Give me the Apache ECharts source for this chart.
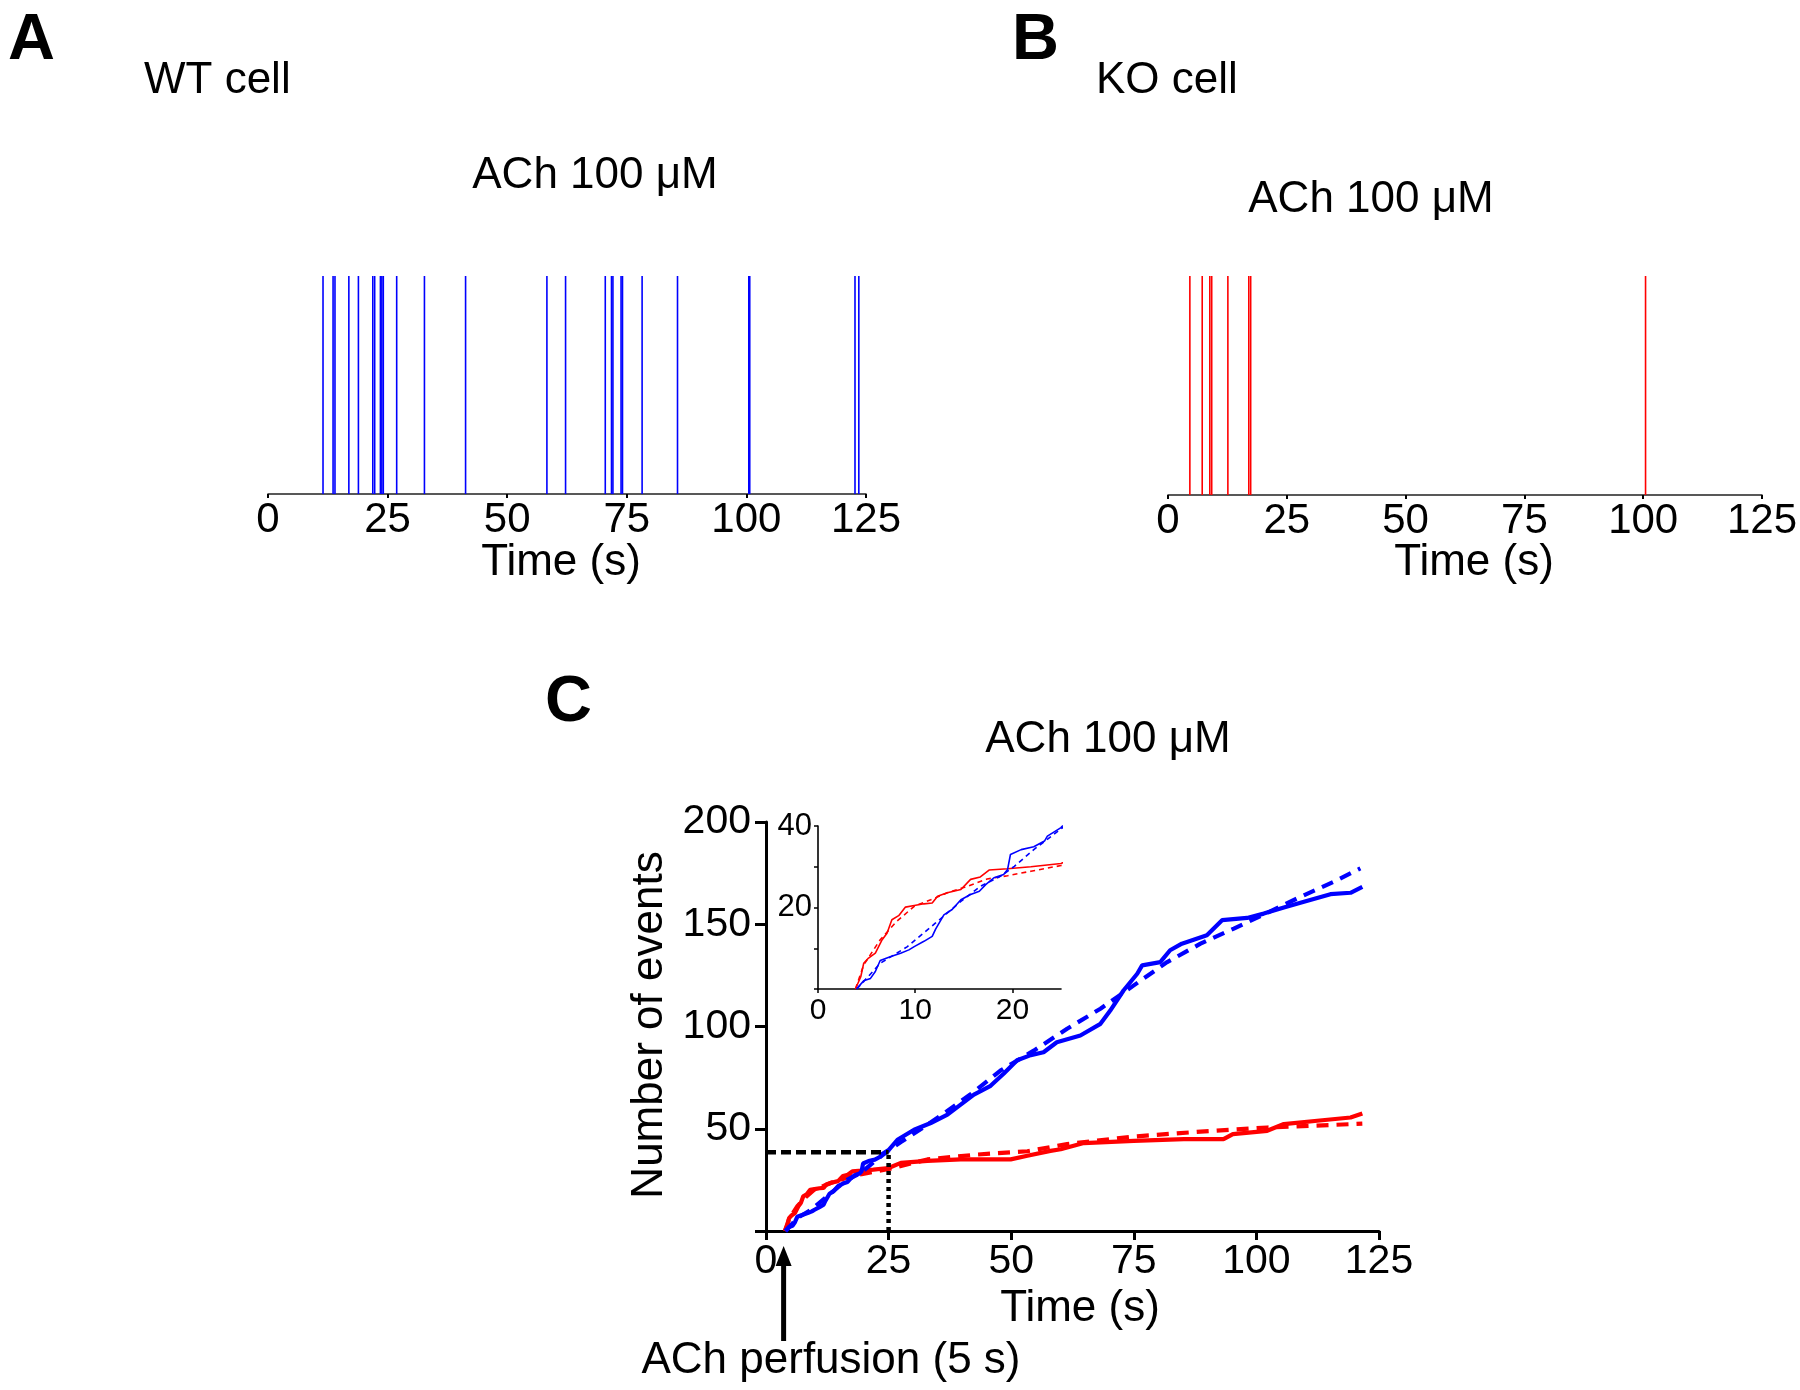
<!DOCTYPE html>
<html>
<head>
<meta charset="utf-8">
<script src="https://cdn.jsdelivr.net/npm/echarts@6/dist/echarts.min.js"></script>
<style>html,body{margin:0;padding:0;background:#fff}#c{width:1800px;height:1390px}</style>
</head>
<body>
<div id="c"></div>
<script>
// ---------- DATA ----------
const timeTicks = [0, 25, 50, 75, 100, 125];
// Panel A: WT cell event times (s)
const wtEvents = [11.5, 13.6, 14.0, 16.9, 18.9, 21.9, 22.3, 23.5, 23.8, 24.1, 26.9, 32.7, 41.3, 58.3, 62.2, 70.5, 71.8, 72.1, 73.8, 74.1, 78.2, 85.6, 100.5, 100.7, 122.7, 123.5];
// Panel B: KO cell event times (s)
const koEvents = [4.6, 7.2, 8.8, 9.2, 12.6, 17.0, 17.4, 100.5];
// Panel C: cumulative number of events [time, count]
const wtCum = [[3.95,0],[4.7,2],[5.4,2.6],[5.9,4.3],[6.4,7],[7.5,8],[8.5,8.8],[9.35,9.6],[9.9,10.4],[10.9,11.7],[11.75,12.9],[12.1,14.7],[12.95,18.2],[13.8,19.5],[14.7,21.9],[15.7,23.2],[16.6,24],[17.25,25.6],[18.1,27.3],[19.1,28.1],[19.5,29.3],[19.8,33],[20.9,34.2],[22.2,34.9],[23.3,36.3],[23.6,37.5],[25,39.6],[26.8,44.6],[30.2,49.5],[33.6,52.8],[37,56.9],[39.7,61.8],[42.4,66.7],[45.8,71],[48.5,77],[51.2,83.5],[54,86],[56.6,87.4],[59.3,92.3],[64.1,95.6],[68.2,101.3],[70.2,107.8],[72.9,117.6],[75.7,125.8],[76.7,129.9],[80.4,131.5],[82.4,137.3],[84.8,140.5],[89.9,144.6],[93,152],[98.1,153.1],[101.5,155.2],[105.6,158.2],[109.7,161],[115.1,164.7],[119.2,165.4],[121.6,168.3]];
const wtFit = [[4,0],[6.4,6.3],[9.2,10.4],[12.1,16.2],[14.7,21.5],[16.7,25.2],[18.8,27.7],[20.2,30.1],[22.2,34.2],[25,39.3],[27.5,43.5],[32,50.5],[36,57],[41.8,67],[47.8,78.4],[54.6,88.2],[61.4,98.9],[68.2,108.7],[75,120.1],[81.8,131.5],[88.6,140.5],[95.4,147.9],[102.2,155.6],[109,163.4],[115.8,170.8],[121.2,177.3]];
const koCum = [[3.85,0],[4.4,3],[4.7,6.3],[5.2,7.6],[5.9,8.8],[6.6,12.1],[7.1,13.7],[7.6,17],[8.3,18],[9,20.1],[9.9,20.5],[10.9,20.9],[11.75,21.1],[12.3,22.75],[13.3,23.6],[14.7,24.4],[15.7,26.9],[16.7,27.5],[17.6,29.2],[19.5,29.5],[21.9,30],[25,30.8],[27.5,33.3],[32.9,34.3],[39.7,35],[49.9,35],[53.3,36.8],[58,39.2],[60.1,40],[64.8,43],[75,44.1],[85.2,44.9],[93.3,44.9],[95.2,47.4],[102.2,49],[105.6,52.3],[112.4,53.9],[119.2,55.5],[121.6,57.5]];
const koFit = [[3.85,0],[4.7,5.9],[6.4,12.1],[8.1,16.6],[9.9,20.3],[11.6,21.9],[13.3,23.6],[15.4,25.2],[17.4,27],[19.5,27.8],[21.9,28.9],[25,30.3],[32.9,35],[43.1,37.4],[53.3,39],[61.4,42.5],[75,46.2],[88.6,48.6],[102.2,50.6],[115.8,51.9],[121.6,52.5]];
const crossLevel = [[0,38.5],[25,38.5]];
const crossTime = [[25,0],[25,38.5]];
const perfusionStart = [[4, 0]];

// ---------- STYLE ----------
const FONT = "'Liberation Sans', Arial, Helvetica, sans-serif";
const BLUE = '#0000ff', RED = '#ff0000';

function rasterItem(color) {
  return function (params, api) {
    const t = api.value(0);
    const p0 = api.coord([t, 0]);
    const p1 = api.coord([t, 1]);
    return { type: 'line', shape: { x1: p0[0], y1: p0[1], x2: p1[0], y2: p1[1] },
      style: { stroke: color, lineWidth: 1.6 } };
  };
}

function rasterX(gi) {
  return { gridIndex: gi, type: 'value', min: 0, max: 125, interval: 25,
    axisLine: { show: true, onZero: false, lineStyle: { color: '#222', width: 1.6 } },
    axisTick: { show: true, length: 4, lineStyle: { color: '#000', width: 2 } },
    axisLabel: { fontSize: 42, margin: 5, color: '#000', fontFamily: FONT },
    splitLine: { show: false } };
}
function rasterY(gi) {
  return { gridIndex: gi, type: 'value', min: 0, max: 1, show: false, splitLine: { show: false } };
}

function txt(text, x, y, size, opts) {
  opts = opts || {};
  return { type: 'text', x: x, y: y, rotation: opts.rot || 0, z: 100,
    style: { text: text, fill: '#000', font: (opts.bold ? 'bold ' : '') + size + 'px ' + FONT,
      textAlign: opts.align || 'left', textVerticalAlign: 'middle', verticalAlign: 'middle' } };
}

const lineS = (data, color, w, dash, xi) => ({
  type: 'line', xAxisIndex: xi, yAxisIndex: xi, data: data, showSymbol: false, symbol: 'none',
  lineStyle: { color: color, width: w, type: dash || 'solid' }, animation: false, z: 3
});

const chart = echarts.init(document.getElementById('c'), null, { renderer: 'canvas' });
chart.setOption({
  animation: false,
  backgroundColor: '#fff',
  textStyle: { fontFamily: FONT },
  grid: [
    { left: 268, top: 276, width: 598, height: 218 },
    { left: 1168, top: 276, width: 597, height: 219 },
    { left: 766, top: 822, width: 613, height: 409 },
    { left: 818, top: 826, width: 243, height: 163 }
  ],
  xAxis: [
    rasterX(0), rasterX(1),
    { gridIndex: 2, type: 'value', min: 0, max: 125, interval: 25,
      axisLine: { show: true, onZero: false, lineStyle: { color: '#000', width: 3 } },
      axisTick: { show: true, length: 9, lineStyle: { color: '#000', width: 3 } },
      axisLabel: { fontSize: 41, margin: 10, color: '#000', fontFamily: FONT },
      splitLine: { show: false } },
    { gridIndex: 3, type: 'value', min: 0, max: 25,
      axisLine: { show: true, onZero: false, lineStyle: { color: '#000', width: 1.6 } },
      axisTick: { show: true, length: 4, customValues: [0, 10, 20], lineStyle: { color: '#000', width: 1.5 } },
      axisLabel: { fontSize: 30, margin: 7, color: '#000', fontFamily: FONT, customValues: [0, 10, 20] },
      splitLine: { show: false } }
  ],
  yAxis: [
    rasterY(0), rasterY(1),
    { gridIndex: 2, type: 'value', min: 0, max: 200, interval: 50,
      axisLine: { show: true, onZero: false, lineStyle: { color: '#000', width: 3 } },
      axisTick: { show: true, length: 11, lineStyle: { color: '#000', width: 3 } },
      axisLabel: { fontSize: 41, margin: 15, color: '#000', fontFamily: FONT,
        formatter: v => (v === 0 ? '' : String(v)) },
      splitLine: { show: false } },
    { gridIndex: 3, type: 'value', min: 0, max: 40,
      axisLine: { show: true, onZero: false, lineStyle: { color: '#000', width: 1.6 } },
      axisTick: { show: true, length: 4, customValues: [0, 10, 20, 30, 40], lineStyle: { color: '#000', width: 1.5 } },
      axisLabel: { fontSize: 31, margin: 6, color: '#000', fontFamily: FONT, customValues: [20, 40] },
      splitLine: { show: false } }
  ],
  series: [
    { type: 'custom', xAxisIndex: 0, yAxisIndex: 0, data: wtEvents.map(t => [t, 1]), renderItem: rasterItem(BLUE), z: 2 },
    { type: 'custom', xAxisIndex: 1, yAxisIndex: 1, data: koEvents.map(t => [t, 1]), renderItem: rasterItem(RED), z: 2 },
    lineS(koCum, RED, 4.2, 'solid', 2),
    lineS(koFit, RED, 4.2, [12, 8], 2),
    lineS(wtCum, BLUE, 4.2, 'solid', 2),
    lineS(wtFit, BLUE, 4.2, [12, 8], 2),
    lineS(koCum, RED, 1.6, 'solid', 3),
    lineS(koFit, RED, 1.6, [5, 4], 3),
    lineS(wtCum, BLUE, 1.6, 'solid', 3),
    lineS(wtFit, BLUE, 1.6, [5, 4], 3),
    lineS(crossLevel, '#000', 4.5, [10, 5], 2),
    lineS(crossTime, '#000', 4.5, [4, 4], 2),
    { type: 'custom', xAxisIndex: 2, yAxisIndex: 2, data: perfusionStart, clip: false, z: 5,
      renderItem: function (params, api) {
        const p = api.coord([api.value(0), api.value(1)]);
        const x = p[0] - 2, yTip = p[1] + 15, yEnd = p[1] + 110;
        return { type: 'group', children: [
          { type: 'line', shape: { x1: x, y1: yTip + 14, x2: x, y2: yEnd }, style: { stroke: '#000', lineWidth: 5 } },
          { type: 'polygon', shape: { points: [[x, yTip], [x - 8, yTip + 20], [x + 8, yTip + 20]] }, style: { fill: '#000' } }
        ] };
      } }
  ],
  graphic: [
    txt('A', 8, 41, 65, { bold: true }),
    txt('WT cell', 144, 81, 44),
    txt('ACh 100 μM', 595, 176, 44, { align: 'center' }),
    txt('Time (s)', 561, 563, 44, { align: 'center' }),
    txt('B', 1012, 41, 65, { bold: true }),
    txt('KO cell', 1096, 81, 44),
    txt('ACh 100 μM', 1371, 200, 44, { align: 'center' }),
    txt('Time (s)', 1474, 563, 44, { align: 'center' }),
    txt('C', 545, 703, 65, { bold: true }),
    txt('ACh 100 μM', 1108, 740, 44, { align: 'center' }),
    txt('Number of events', 650, 1025, 44, { align: 'center', rot: Math.PI / 2 }),
    txt('Time (s)', 1080, 1309, 44, { align: 'center' }),
    txt('ACh perfusion (5 s)', 831, 1361, 44, { align: 'center' })
  ]
});
</script>
</body>
</html>
